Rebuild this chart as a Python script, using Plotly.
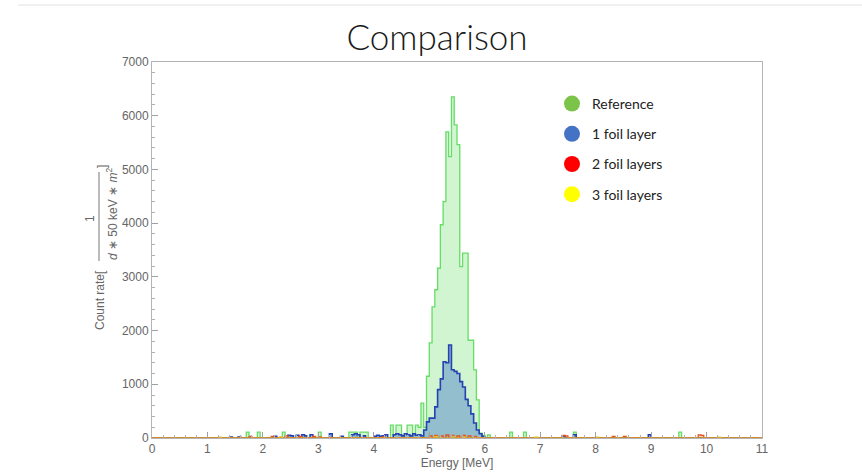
import numpy as np
import plotly.graph_objects as go

# ---------------- data (bin start energy in MeV -> count rate), 50 keV bins ----------------
bin_width = 0.05
e_max = 11.0

ref_E = [1.70, 1.90, 2.35, 3.00, 3.55, 3.60, 3.65, 3.75, 3.80, 3.85,
         4.30, 4.35, 4.40, 4.45, 4.50, 4.60, 4.65, 4.70, 4.75, 4.80,
         4.85, 4.90, 4.95, 5.00, 5.05, 5.10, 5.15, 5.20, 5.25, 5.30,
         5.35, 5.40, 5.45, 5.50, 5.55, 5.60, 5.65, 5.70, 5.75, 5.80,
         5.85, 5.90, 5.95, 6.05, 6.45, 6.70, 7.60, 9.50]
ref_counts = [110, 110, 110, 110, 110, 110, 110, 110, 110, 110,
              240, 60, 240, 240, 50, 240, 240, 60, 240, 200,
              650, 200, 1150, 1770, 2440, 2760, 3160, 3970, 4400, 5700,
              5240, 6350, 5830, 5460, 3190, 3440, 3440, 1820, 1820, 1270,
              710, 90, 50, 60, 110, 110, 110, 110]

foil1_E = [1.40, 1.55, 2.20, 2.45, 2.50, 2.60, 2.70, 2.75, 2.85, 3.20,
           3.40, 3.60, 3.65, 3.70, 3.80, 4.00, 4.05, 4.10, 4.15, 4.20,
           4.35, 4.40, 4.45, 4.50, 4.55, 4.60, 4.65, 4.70, 4.75, 4.80,
           4.85, 4.90, 4.95, 5.00, 5.05, 5.10, 5.15, 5.20, 5.25, 5.30,
           5.35, 5.40, 5.45, 5.50, 5.55, 5.60, 5.65, 5.70, 5.75, 5.80,
           5.85, 5.90, 5.95, 7.40, 7.60, 8.95]
foil1_counts = [20, 20, 30, 50, 40, 50, 60, 40, 60, 80,
                30, 60, 80, 60, 40, 30, 50, 30, 40, 60,
                60, 80, 60, 40, 80, 60, 40, 80, 50, 60,
                40, 150, 300, 370, 370, 580, 900, 1100, 1420, 1400,
                1730, 1270, 1240, 1200, 1050, 950, 720, 600, 450, 280,
                150, 80, 30, 40, 60, 60]

foil2_E = [1.75, 2.15, 2.40, 2.65, 2.90, 3.00, 4.15, 5.00, 5.10, 5.20,
           5.30, 5.40, 5.50, 5.60, 5.70, 5.80, 7.40, 7.45, 8.30, 8.50,
           9.85, 9.90]
foil2_counts = [30, 30, 40, 30, 30, 20, 20, 40, 50, 40,
                60, 50, 40, 50, 40, 30, 50, 40, 30, 30,
                60, 50]

foil3_E = [1.20, 2.30, 5.10, 5.40, 5.60, 6.90, 8.00, 10.20]
foil3_counts = [15, 20, 30, 30, 20, 15, 15, 15]

series_names = ["Reference", "1 foil layer", "2 foil layers", "3 foil layers"]
legend_colors = ["#7cc34a", "#4472c4", "#ff0000", "#ffff00"]
line_colors = ["#66dd66", "#2542b0", "#e8501c", "#e0c020"]
fill_colors = ["rgba(110,225,110,0.32)", "rgba(60,115,200,0.42)",
               "rgba(232,80,28,0.25)", "rgba(224,192,32,0.25)"]
line_widths = [1.3, 1.6, 1.3, 1.2]

# ---------------- build histogram steps ----------------
edges = np.round(np.arange(0, e_max + bin_width / 2, bin_width), 4)


def to_steps(E, counts):
    vals = np.zeros(len(edges) - 1)
    for e, c in zip(E, counts):
        idx = int(round(e / bin_width))
        vals[idx] = c
    y = np.append(vals, vals[-1])
    return edges, y


fig = go.Figure()
data_sets = [(ref_E, ref_counts), (foil1_E, foil1_counts),
             (foil2_E, foil2_counts), (foil3_E, foil3_counts)]
for i, (E, C) in enumerate(data_sets):
    x, y = to_steps(E, C)
    fig.add_trace(go.Scatter(
        x=x, y=y, mode="lines", line_shape="hv",
        line=dict(color=line_colors[i], width=line_widths[i]),
        fill="tozeroy", fillcolor=fill_colors[i],
        showlegend=False, hoverinfo="skip"))

# legend entries (circles)
for i, name in enumerate(series_names):
    fig.add_trace(go.Scatter(
        x=[None], y=[None], mode="markers", name=name,
        legendgroup=name,
        marker=dict(color=legend_colors[i], size=16, symbol="circle")))

# ---------------- layout ----------------
L, R, T, B = 152, 100, 62, 37
W, H = 862, 475
pw, ph = W - L - R, H - T - B


def px(xp):
    return (xp - L) / pw


def py(yp):
    return (H - B - yp) / ph


tickfont = dict(family="Liberation Sans, Arial, sans-serif", size=12, color="#666666")
axis_common = dict(
    showgrid=False, zeroline=False, showline=True, linecolor="#b4b4b4",
    linewidth=1, mirror=True, ticks="inside", tickcolor="#a0a0a0",
    ticklen=6, tickwidth=1, tickfont=tickfont, automargin=False,
)

fig.update_layout(
    width=W, height=H,
    margin=dict(l=L, r=R, t=T, b=B),
    paper_bgcolor="white", plot_bgcolor="white",
    title=dict(text="Comparison", x=0.507, xanchor="center",
               y=1 - 38 / H, yanchor="middle", yref="container",
               font=dict(family="Lato, Open Sans, sans-serif", size=35,
                         color="#1a1a1a", weight=300)),
    xaxis=dict(range=[0, 11], tick0=0, dtick=1,
               minor=dict(dtick=0.2, ticklen=3, tickcolor="#b0b0b0", ticks="inside"),
               title=dict(text="Energy [MeV]", standoff=2,
                          font=dict(family="Liberation Sans, Arial, sans-serif",
                                    size=12, color="#666666")),
               **axis_common),
    yaxis=dict(range=[0, 7000], tick0=0, dtick=1000,
               minor=dict(dtick=200, ticklen=3, tickcolor="#b0b0b0", ticks="inside"),
               **axis_common),
    legend=dict(x=px(552), y=py(88), xanchor="left", yanchor="top",
                bgcolor="rgba(0,0,0,0)", tracegroupgap=9,
                font=dict(family="Lato, Open Sans, sans-serif", size=14, color="#222222"),
                itemsizing="trace"),
    showlegend=True,
)

lab_font = dict(family="Liberation Sans, Arial, sans-serif", size=12, color="#666666")
annots = [
    dict(text="Count rate[", x=px(100), y=py(300), textangle=-90),
    dict(text="1", x=px(90), y=py(219), textangle=-90),
    dict(text="<i>d</i> ∗ 50 keV ∗ <i>m</i><sup>2</sup>", x=px(112), y=py(214), textangle=-90),
    dict(text="]", x=px(102), y=py(167), textangle=-90),
]
for a in annots:
    fig.add_annotation(xref="paper", yref="paper", showarrow=False,
                       xanchor="center", yanchor="middle", font=lab_font, **a)

# fraction bar and slide border line
fig.add_shape(type="line", xref="paper", yref="paper",
              x0=px(99), x1=px(99), y0=py(172), y1=py(261),
              line=dict(color="#777777", width=1))
fig.add_shape(type="line", xref="paper", yref="paper",
              x0=px(18), x1=px(862), y0=py(5), y1=py(5),
              line=dict(color="#e2e2e2", width=1))

fig.write_html("out.html", config={"displayModeBar": False},
               post_script="document.body.style.margin='0';document.body.style.overflow='hidden';")
